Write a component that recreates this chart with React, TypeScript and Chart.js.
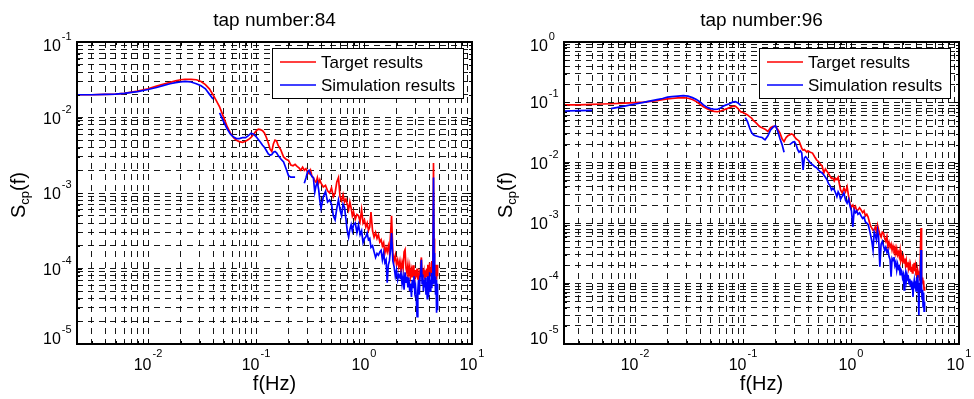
import React, { useEffect, useRef } from 'react';
import { Chart, registerables } from 'chart.js';

Chart.register(...registerables);

// ---------------- data ----------------
const FREQ = [
  0.0022, 0.003, 0.004, 0.005, 0.006, 0.008, 0.01, 0.012, 0.014, 0.016,
  0.018, 0.02, 0.022, 0.025, 0.028, 0.031, 0.034, 0.037, 0.04, 0.043,
  0.046, 0.05, 0.054, 0.058, 0.062, 0.066, 0.07, 0.075, 0.08, 0.085,
  0.09, 0.095, 0.1, 0.105, 0.11, 0.115, 0.12, 0.125, 0.13, 0.135,
  0.14, 0.145, 0.15, 0.155, 0.16, 0.17, 0.18, 0.19, 0.2, 0.21,
  0.22, 0.23, 0.24, 0.25, 0.26, 0.27, 0.28, 0.29, 0.3, 0.31,
  0.32, 0.33, 0.34, 0.35, 0.36, 0.37, 0.38, 0.39, 0.4, 0.42,
  0.44, 0.46, 0.48, 0.5, 0.52, 0.54, 0.56, 0.58, 0.6, 0.62,
  0.64, 0.66, 0.68, 0.7, 0.72, 0.74, 0.76, 0.78, 0.8, 0.83,
  0.86, 0.89, 0.92, 0.95, 0.98, 1.01, 1.04, 1.07, 1.1, 1.13,
  1.16, 1.2, 1.24, 1.28, 1.32, 1.36, 1.4, 1.44, 1.48, 1.52,
  1.56, 1.6, 1.64, 1.68, 1.72, 1.76, 1.8, 1.85, 1.9, 1.95,
  2.0, 2.05, 2.1, 2.15, 2.2, 2.25, 2.3, 2.35, 2.4, 2.45,
  2.5, 2.55, 2.6, 2.65, 2.7, 2.75, 2.8, 2.85, 2.9, 2.95,
  3.0, 3.05, 3.1, 3.15, 3.2, 3.25, 3.3, 3.35, 3.4, 3.45,
  3.5, 3.55, 3.6, 3.65, 3.7, 3.75, 3.8, 3.85, 3.9, 3.95,
  4.0, 4.05, 4.1, 4.15, 4.2, 4.25, 4.3, 4.35, 4.4, 4.45,
  4.5, 4.55, 4.6, 4.65, 4.7, 4.75, 4.8,
];

const TAP84_TARGET = [
  2.0e-2, 2.0e-2, 2.02e-2, 2.04e-2, 2.09e-2, 2.24e-2, 2.4e-2, 2.6e-2, 2.78e-2, 2.92e-2,
  3.05e-2, 3.16e-2, 3.2e-2, 3.2e-2, 3.16e-2, 3.0e-2, 2.72e-2, 2.4e-2, 2.0e-2, 1.66e-2,
  1.38e-2, 1.02e-2, 7.6e-3, 6.2e-3, 5.4e-3, 5.0e-3, 4.8e-3, 4.7e-3, 4.85e-3, 5.1e-3,
  5.45e-3, 6.0e-3, 6.6e-3, 7.0e-3, 6.9e-3, 6.7e-3, 6.2e-3, 5.4e-3, 4.6e-3, 3.8e-3,
  3.55e-3, 4.5e-3, 5.0e-3, 4.9e-3, 4.3e-3, 3.7e-3, 3.0e-3, 2.8e-3, 2.7e-3, 2.35e-3,
  2.3e-3, 2.4e-3, 2.25e-3, 2.15e-3, 2.0e-3, 2.2e-3, 2.0e-3, 2.1e-3, 1.9e-3, 1.8e-3,
  2.0e-3, 1.65e-3, 1.6e-3, 1.45e-3, 1.38e-3, 1.6e-3, 1.35e-3, 1.5e-3, 1.35e-3, 1.2e-3,
  1.26e-3, 1.07e-3, 1.0e-3, 1.17e-3, 8.9e-4, 1.0e-3, 1.4e-3, 1.6e-3, 8.9e-4, 7.9e-4,
  9.5e-4, 7.6e-4, 8.3e-4, 7.1e-4, 6.0e-4, 7.6e-4, 6.3e-4, 5.0e-4, 5.6e-4, 4.5e-4,
  5.2e-4, 5.0e-4, 4.2e-4, 6.0e-4, 4.0e-4, 4.4e-4, 3.55e-4, 4.0e-4, 3.2e-4, 3.55e-4,
  5.6e-4, 3.16e-4, 2.6e-4, 3.0e-4, 2.5e-4, 2.8e-4, 2.25e-4, 2.4e-4, 2.0e-4, 2.2e-4,
  1.6e-4, 1.9e-4, 1.66e-4, 2.0e-4, 1.6e-4, 2.8e-4, 5.0e-4, 1.6e-4, 1.26e-4, 1.5e-4,
  1.12e-4, 1.3e-4, 1.05e-4, 1.26e-4, 9.5e-5, 1.2e-4, 1.0e-4, 1.66e-4, 1.78e-4, 1.0e-4,
  8.7e-5, 1.12e-4, 8.3e-5, 1.05e-4, 7.9e-5, 9.5e-5, 7.6e-5, 1.1e-4, 8.3e-5, 7.1e-5,
  9.5e-5, 7.6e-5, 1.0e-4, 7.1e-5, 8.9e-5, 6.6e-5, 9.5e-5, 1.2e-4, 1.4e-4, 7.9e-5,
  1.0e-4, 7.6e-5, 8.9e-5, 7.1e-5, 9.5e-5, 7.6e-5, 1.0e-4, 7.9e-5, 1.12e-4, 7.6e-5,
  8.9e-5, 1.2e-4, 8.3e-5, 1.05e-4, 7.9e-5, 1.26e-4, 8.9e-5, 1.6e-4, 2.5e-3, 2.5e-4,
  8.9e-5, 1.12e-4, 7.9e-5, 1.0e-4, 7.1e-5, 1.12e-4, 7.9e-5,
];

const TAP84_SIM = [
  2.0e-2, 2.0e-2, 2.02e-2, 2.04e-2, 2.09e-2, 2.2e-2, 2.35e-2, 2.5e-2, 2.66e-2, 2.8e-2,
  2.9e-2, 2.95e-2, 3.0e-2, 2.95e-2, 2.8e-2, 2.63e-2, 2.4e-2, 2.04e-2, 1.76e-2, null,
  1.15e-2, 8.9e-3, 7.1e-3, 6.0e-3, 5.5e-3, 5.25e-3, 5.25e-3, 5.4e-3, 5.4e-3, 5.75e-3,
  6.2e-3, 6.0e-3, 5.6e-3, 5.1e-3, 4.7e-3, 4.3e-3, 4.0e-3, 3.63e-3, 3.3e-3, 3.16e-3,
  3.24e-3, 3.47e-3, 3.55e-3, 3.4e-3, 3.16e-3, 2.82e-3, 2.57e-3, 2.1e-3, 1.7e-3, 1.62e-3,
  1.62e-3, 1.62e-3, null, null, null, null, 1.35e-3, 1.58e-3, 1.9e-3, 2.0e-3,
  1.78e-3, 1.66e-3, 1.58e-3, 1.02e-3, 1.26e-3, 1.38e-3, 1.12e-3, 7.9e-4, 6.3e-4, 8.9e-4,
  1.05e-3, 7.6e-4, 8.1e-4, 7.1e-4, 5.0e-4, 4.4e-4, 6.3e-4, 8.1e-4, 6.0e-4, 5.0e-4,
  7.1e-4, 6.5e-4, 4.5e-4, 3.16e-4, 2.6e-4, 3.3e-4, 3.8e-4, 3.16e-4, 3.8e-4, 4.0e-4,
  3.0e-4, 3.8e-4, 2.8e-4, 3.16e-4, 2.2e-4, 2.5e-4, 2.63e-4, 2.95e-4, 2.4e-4, 2.5e-4,
  1.9e-4, 2.0e-4, 1.66e-4, 1.4e-4, 1.58e-4, 1.5e-4, 1.66e-4, 1.74e-4, 1.3e-4, 1.6e-4,
  1.2e-4, 1.3e-4, 6.5e-5, 1.12e-4, 1.26e-4, 1.78e-4, 2.95e-4, 1.26e-4, 1.05e-4, 7.9e-5,
  9.5e-5, 7.1e-5, 8.3e-5, 7.6e-5, 8.7e-5, 6.3e-5, 7.9e-5, 5.25e-5, 8.9e-5, 6.6e-5,
  7.8e-5, 5.6e-5, 7.6e-5, 5.0e-5, 6.3e-5, 4.2e-5, 7.1e-5, 5.6e-5, 7.9e-5, 5.0e-5,
  5.75e-5, 4.0e-5, 2.3e-5, 5.0e-5, 7.1e-5, 4.5e-5, 7.9e-5, 8.9e-5, 1.3e-4, 6.3e-5,
  8.3e-5, 5.0e-5, 7.1e-5, 5.6e-5, 7.6e-5, 4.5e-5, 6.6e-5, 4.0e-5, 7.9e-5, 4.2e-5,
  6.3e-5, 8.9e-5, 5.0e-5, 7.1e-5, 5.6e-5, 8.7e-5, 6.3e-5, 1.12e-4, 1.6e-3, 1.6e-4,
  6.3e-5, 7.9e-5, 4.5e-5, 7.1e-5, 2.6e-5, 6.3e-5, 2.8e-5,
];

const TAP96_TARGET = [
  9.1e-2, 9.1e-2, 9.3e-2, 9.4e-2, 9.5e-2, 9.7e-2, 9.9e-2, 1.01e-1, 1.04e-1, 1.07e-1,
  1.11e-1, 1.14e-1, 1.16e-1, 1.19e-1, 1.2e-1, 1.17e-1, 1.12e-1, 1.03e-1, 9.3e-2, 8.5e-2,
  7.9e-2, 7.4e-2, 7.1e-2, 7.0e-2, 7.2e-2, 7.5e-2, 7.8e-2, 8.2e-2, 8.6e-2, 8.7e-2,
  7.9e-2, 7.0e-2, 6.8e-2, 6.5e-2, 6.2e-2, 5.8e-2, 5.5e-2, 5.0e-2, 4.7e-2, 4.4e-2,
  4.1e-2, 3.9e-2, 3.8e-2, 3.7e-2, 3.6e-2, 3.3e-2, 3.8e-2, 4.0e-2, 4.0e-2, 3.55e-2,
  3.1e-2, 2.5e-2, 2.24e-2, 2.6e-2, 2.8e-2, 2.9e-2, 3.0e-2, 2.95e-2, 2.7e-2, 2.5e-2,
  2.4e-2, 2.3e-2, 2.0e-2, 1.74e-2, 1.62e-2, 1.66e-2, 1.58e-2, 1.5e-2, 1.58e-2, 1.5e-2,
  1.45e-2, 1.26e-2, 1.12e-2, 1.05e-2, 9.5e-3, 8.9e-3, 6.8e-3, 7.9e-3, 7.2e-3, 6.6e-3,
  6.0e-3, 5.5e-3, 5.6e-3, 5.0e-3, 5.5e-3, 5.25e-3, 5.75e-3, 4.5e-3, 3.55e-3, 3.16e-3,
  3.8e-3, 3.3e-3, 4.0e-3, 2.8e-3, 2.1e-3, 1.86e-3, 2.0e-3, 1.74e-3, 1.9e-3, 1.6e-3,
  1.66e-3, 1.8e-3, 1.66e-3, 1.5e-3, 1.6e-3, 1.32e-3, 1.4e-3, 1.26e-3, 1.05e-3, 8.9e-4,
  8.3e-4, 7.6e-4, 7.8e-4, 8.7e-4, 7.1e-4, 9.3e-4, 7.9e-4, 6.6e-4, 5.9e-4, 7.1e-4,
  6.9e-4, 5.6e-4, 5.0e-4, 6.0e-4, 4.1e-4, 4.8e-4, 4.0e-4, 4.5e-4, 3.6e-4, 4.2e-4,
  3.6e-4, 4.0e-4, 3.16e-4, 3.8e-4, 3.0e-4, 3.3e-4, 2.8e-4, 3.55e-4, 2.45e-4, 2.8e-4,
  2.4e-4, 2.75e-4, 2.2e-4, 2.6e-4, 2.0e-4, 2.4e-4, 1.9e-4, 2.25e-4, 1.8e-4, 2.1e-4,
  1.66e-4, 2.0e-4, 1.6e-4, 1.9e-4, 1.5e-4, 2.1e-4, 1.66e-4, 2.2e-4, 1.6e-4, 1.9e-4,
  1.4e-4, 1.78e-4, 1.3e-4, 1.66e-4, 1.5e-4, 1.26e-4, 1.6e-4, 1.12e-4, 4.0e-4, 8.3e-4,
  1.4e-4, 1.05e-4, 1.26e-4, 1.0e-4, 1.12e-4, 7.9e-5, 8.9e-5,
];

const TAP96_SIM = [
  7.2e-2, 7.3e-2, 7.4e-2, null, 7.9e-2, 8.7e-2, 9.4e-2, 1.0e-1, 1.06e-1, 1.11e-1,
  1.16e-1, 1.22e-1, 1.25e-1, 1.27e-1, 1.29e-1, 1.27e-1, 1.2e-1, 1.12e-1, 1.02e-1, 9.1e-2,
  8.4e-2, 7.9e-2, 7.7e-2, 7.7e-2, 8.1e-2, 8.7e-2, 9.1e-2, 9.5e-2, 1.01e-1, 1.03e-1,
  9.8e-2, 8.9e-2, null, 5.6e-2, 4.8e-2, 3.8e-2, 3.16e-2, 2.9e-2, 2.8e-2, 2.75e-2,
  2.7e-2, 2.66e-2, 2.63e-2, 2.5e-2, 2.4e-2, 2.8e-2, 3.5e-2, 3.9e-2, 4.1e-2, 3.3e-2,
  2.5e-2, 2.0e-2, 1.5e-2, null, null, 2.0e-2, 2.1e-2, 2.2e-2, 2.24e-2, 2.0e-2,
  1.66e-2, 1.5e-2, 1.58e-2, 1.45e-2, 7.6e-3, 1.2e-2, 1.26e-2, 1.2e-2, 1.12e-2, 1.0e-2,
  9.3e-3, 8.7e-3, 8.3e-3, 7.6e-3, 7.1e-3, 6.8e-3, 6.3e-3, 5.75e-3, 5.25e-3, 4.5e-3,
  4.2e-3, 3.55e-3, 3.8e-3, 3.55e-3, 3.16e-3, 2.75e-3, 3.3e-3, 3.0e-3, 2.5e-3, 2.8e-3,
  3.16e-3, 2.4e-3, 2.14e-3, 2.5e-3, 1.9e-3, 1.6e-3, 8.7e-4, 1.66e-3, 1.5e-3, 1.6e-3,
  1.4e-3, 1.48e-3, 1.32e-3, 1.2e-3, 1.26e-3, 1.05e-3, 1.0e-3, 9.5e-4, 7.9e-4, 6.3e-4,
  5.0e-4, 3.6e-4, 7.1e-4, 6.3e-4, 5.25e-4, 7.6e-4, 6.0e-4, 1.9e-4, 4.5e-4, 5.0e-4,
  4.2e-4, 3.55e-4, 4.0e-4, 3.3e-4, 3.6e-4, 2.8e-4, 2.5e-4, 1.3e-4, 2.6e-4, 2.4e-4,
  2.75e-4, 2.0e-4, 2.25e-4, 1.66e-4, 2.1e-4, 1.78e-4, 1.9e-4, 1.4e-4, 1.7e-4, 1.6e-4,
  1.26e-4, 1.4e-4, 7.9e-5, 1.3e-4, 1.5e-4, 1.12e-4, 1.4e-4, 1.2e-4, 1.26e-4, 1.0e-4,
  1.2e-4, 8.9e-5, 1.12e-4, 7.9e-5, 1.05e-4, 6.0e-5, 9.5e-5, 1.12e-4, 8.3e-5, 1.05e-4,
  7.6e-5, 1.26e-4, 8.9e-5, 1.38e-4, 7.9e-5, 3.0e-5, 1.0e-4, 7.1e-5, 1.6e-4, 3.6e-4,
  8.9e-5, 5.6e-5, 7.9e-5, 4.1e-5, 7.1e-5, 3.5e-5, 5.0e-5,
];

const TITLES = ['tap number:84', 'tap number:96'];
const LEGEND_LABELS = ['Target results', 'Simulation results'];
const X_LABEL = 'f(Hz)';
const Y_LABEL = ['S', 'cp', '(f)'];
const X_TICK_EXPONENTS = ['-2', '-1', '0', '1'];
const Y_TICK_EXPONENTS_84 = ['-5', '-4', '-3', '-2', '-1'];
const Y_TICK_EXPONENTS_96 = ['-5', '-4', '-3', '-2', '-1', '0'];
const X_RANGE = [0.0022, 10];
const Y_RANGE_84 = [1e-5, 1e-1];
const Y_RANGE_96 = [1e-5, 1];

// ---------------- styling ----------------
const FONT = '"Liberation Sans", Arial, Helvetica, sans-serif';
const RED = '#ff0000';
const BLUE = '#0000ff';
const GRID = 'rgba(0,0,0,0.9)';
const W = 487;
const H = 399;

function logTicks(min: number, max: number) {
  const out: { value: number }[] = [];
  const e0 = Math.floor(Math.log10(min));
  const e1 = Math.ceil(Math.log10(max));
  for (let e = e0; e <= e1; e++) {
    for (let k = 1; k <= 9; k++) {
      const v = k * Math.pow(10, e);
      if (v >= min * 0.9999 && v <= max * 1.0001) out.push({ value: v });
    }
  }
  return out;
}

function isDecade(v: number) {
  const l = Math.log10(v);
  return Math.abs(l - Math.round(l)) < 1e-6;
}

function makeDecor(title: string, yExps: string[]) {
  return {
    id: 'matlabDecor',
    afterDraw(chart: any) {
      const { ctx, chartArea: a, scales } = chart;
      const xs = scales.x;
      const ys = scales.y;
      ctx.save();

      // inward tick marks on all four sides
      ctx.strokeStyle = '#000';
      ctx.lineWidth = 1;
      ctx.beginPath();
      for (const t of xs.ticks) {
        const px = Math.round(xs.getPixelForValue(t.value)) + 0.5;
        const len = isDecade(t.value) ? 5 : 3;
        ctx.moveTo(px, a.bottom);
        ctx.lineTo(px, a.bottom - len);
        ctx.moveTo(px, a.top);
        ctx.lineTo(px, a.top + len);
      }
      for (const t of ys.ticks) {
        const py = Math.round(ys.getPixelForValue(t.value)) + 0.5;
        const len = isDecade(t.value) ? 5 : 3;
        ctx.moveTo(a.left, py);
        ctx.lineTo(a.left + len, py);
        ctx.moveTo(a.right, py);
        ctx.lineTo(a.right - len, py);
      }
      ctx.stroke();

      // axes box
      ctx.lineWidth = 2;
      ctx.strokeRect(a.left, a.top, a.right - a.left, a.bottom - a.top);

      ctx.fillStyle = '#000';
      ctx.textAlign = 'left';
      ctx.textBaseline = 'alphabetic';

      // x tick labels (10^n)
      for (const ex of X_TICK_EXPONENTS) {
        const v = Math.pow(10, Number(ex));
        const px = xs.getPixelForValue(v);
        ctx.font = `16px ${FONT}`;
        const w10 = ctx.measureText('10').width;
        ctx.font = `11px ${FONT}`;
        const we = ctx.measureText(ex).width;
        const start = px - (w10 + we + 1) / 2;
        ctx.font = `16px ${FONT}`;
        ctx.fillText('10', start, a.bottom + 26);
        ctx.font = `11px ${FONT}`;
        ctx.fillText(ex, start + w10 + 1, a.bottom + 13);
      }

      // y tick labels (10^n)
      for (const ex of yExps) {
        const v = Math.pow(10, Number(ex));
        let py = ys.getPixelForValue(v);
        if (Math.abs(py - a.top) < 1) py += 3;
        if (Math.abs(py - a.bottom) < 1) py -= 6;
        ctx.font = `16px ${FONT}`;
        const w10 = ctx.measureText('10').width;
        const x0 = a.left - 34;
        ctx.fillText('10', x0, py + 6);
        ctx.font = `11px ${FONT}`;
        ctx.fillText(ex, x0 + w10 + 1, py - 5);
      }

      // title
      ctx.textAlign = 'center';
      ctx.font = `19px ${FONT}`;
      ctx.fillText(title, (a.left + a.right) / 2, 26);

      // x label
      ctx.font = `20px ${FONT}`;
      ctx.fillText(X_LABEL, (a.left + a.right) / 2, 390);

      // y label (rotated, with subscript)
      ctx.textAlign = 'left';
      ctx.font = `20px ${FONT}`;
      const wS = ctx.measureText(Y_LABEL[0]).width;
      const wF = ctx.measureText(Y_LABEL[2]).width;
      ctx.font = `13px ${FONT}`;
      const wSub = ctx.measureText(Y_LABEL[1]).width;
      const total = wS + wSub + wF;
      ctx.save();
      ctx.translate(25, 195 + total / 2);
      ctx.rotate(-Math.PI / 2);
      ctx.font = `20px ${FONT}`;
      ctx.fillText(Y_LABEL[0], 0, 0);
      ctx.font = `13px ${FONT}`;
      ctx.fillText(Y_LABEL[1], wS, 4);
      ctx.font = `20px ${FONT}`;
      ctx.fillText(Y_LABEL[2], wS + wSub, 0);
      ctx.restore();

      // legend box
      const lx = a.right - 200;
      const ly = a.top + 6;
      const lw = 191;
      const lh = 50;
      ctx.fillStyle = '#fff';
      ctx.fillRect(lx, ly, lw, lh);
      ctx.strokeStyle = '#000';
      ctx.lineWidth = 1;
      ctx.strokeRect(lx + 0.5, ly + 0.5, lw, lh);
      const rows = [
        { label: LEGEND_LABELS[0], color: RED, y: ly + 14 },
        { label: LEGEND_LABELS[1], color: BLUE, y: ly + 37 },
      ];
      ctx.font = `17px ${FONT}`;
      ctx.textBaseline = 'middle';
      for (const r of rows) {
        ctx.strokeStyle = r.color;
        ctx.lineWidth = 1.5;
        ctx.beginPath();
        ctx.moveTo(lx + 8, r.y);
        ctx.lineTo(lx + 44, r.y);
        ctx.stroke();
        ctx.fillStyle = '#000';
        ctx.fillText(r.label, lx + 49, r.y + 1);
      }
      ctx.restore();
    },
  };
}

function points(vals: (number | null)[]) {
  return FREQ.map((f, i) => ({ x: f, y: vals[i] ?? null }));
}

function PsdChart(props: {
  left: number;
  title: string;
  target: (number | null)[];
  sim: (number | null)[];
  yRange: number[];
  yExps: string[];
}) {
  const ref = useRef<HTMLCanvasElement>(null);
  useEffect(() => {
    if (!ref.current) return;
    const axisCommon = {
      type: 'logarithmic' as const,
      afterBuildTicks: (s: any) => {
        s.ticks = logTicks(s.min, s.max);
      },
      ticks: { display: false },
      grid: { color: GRID, lineWidth: 1, drawTicks: false },
      border: { display: false, dash: [6, 5] },
    };
    const chart = new Chart(ref.current, {
      type: 'line',
      data: {
        datasets: [
          {
            label: LEGEND_LABELS[1],
            data: points(props.sim),
            borderColor: BLUE,
            backgroundColor: BLUE,
            borderWidth: 1.7,
            pointRadius: 0,
            tension: 0,
            spanGaps: false,
            order: 1,
          },
          {
            label: LEGEND_LABELS[0],
            data: points(props.target),
            borderColor: RED,
            backgroundColor: RED,
            borderWidth: 1.7,
            pointRadius: 0,
            tension: 0,
            spanGaps: false,
            order: 2,
          },
        ],
      },
      options: {
        animation: false,
        responsive: false,
        maintainAspectRatio: false,
        devicePixelRatio: 1,
        layout: { padding: { left: 77, right: 15, top: 42, bottom: 55 } },
        plugins: {
          legend: { display: false },
          tooltip: { enabled: false },
          title: { display: false },
        },
        scales: {
          x: { ...axisCommon, position: 'bottom', min: X_RANGE[0], max: X_RANGE[1] },
          y: { ...axisCommon, position: 'left', min: props.yRange[0], max: props.yRange[1] },
        },
      },
      plugins: [makeDecor(props.title, props.yExps)],
    } as any);
    return () => chart.destroy();
  }, []);
  return (
    <div style={{ position: 'absolute', left: props.left, top: 0, width: W, height: H }}>
      <canvas ref={ref} width={W} height={H} style={{ display: 'block', width: W, height: H }} />
    </div>
  );
}

export default function App() {
  return (
    <div style={{ position: 'absolute', left: 0, top: 0, width: 974, height: 399, background: '#fff' }}>
      <PsdChart left={0} title={TITLES[0]} target={TAP84_TARGET} sim={TAP84_SIM} yRange={Y_RANGE_84} yExps={Y_TICK_EXPONENTS_84} />
      <PsdChart left={487} title={TITLES[1]} target={TAP96_TARGET} sim={TAP96_SIM} yRange={Y_RANGE_96} yExps={Y_TICK_EXPONENTS_96} />
    </div>
  );
}
